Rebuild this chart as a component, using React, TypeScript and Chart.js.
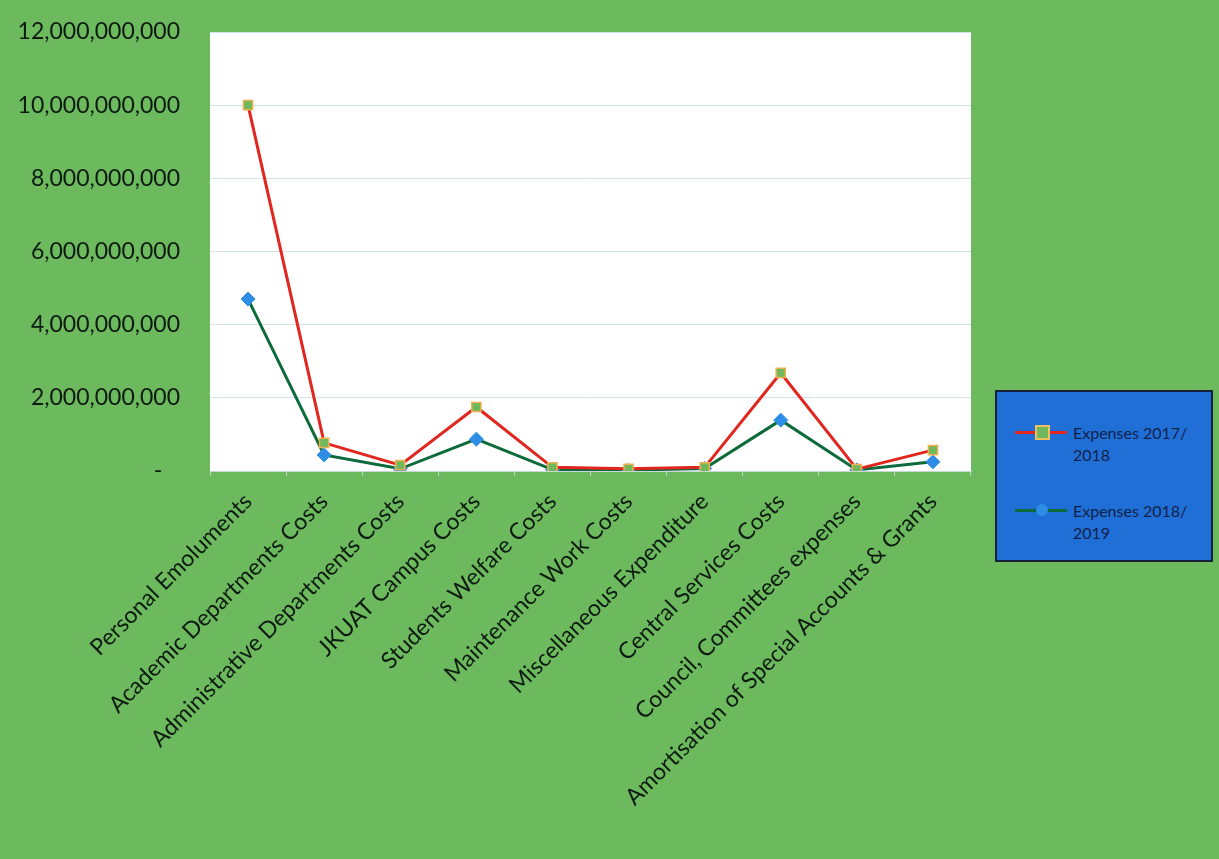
import React, { useEffect, useRef } from "react";
import { Chart, registerables } from "chart.js";

Chart.register(...registerables);

const categories = [
  "Personal Emoluments",
  "Academic Departments Costs",
  "Administrative Departments Costs",
  "JKUAT Campus Costs",
  "Students Welfare Costs",
  "Maintenance Work Costs",
  "Miscellaneous Expenditure",
  "Central Services Costs",
  "Council, Committees expenses",
  "Amortisation of Special Accounts & Grants",
];

const expenses2017 = [
  10000000000, 770000000, 160000000, 1750000000, 100000000, 60000000, 100000000, 2680000000, 50000000, 570000000,
];

const expenses2018 = [
  4700000000, 440000000, 60000000, 870000000, 40000000, 20000000, 70000000, 1390000000, 30000000, 250000000,
];

const seriesLabels = ["Expenses 2017/ 2018", "Expenses 2018/ 2019"];

const FONT = "Lato, 'Open Sans', sans-serif";

const bgPlugin = {
  id: "bgPlugin",
  beforeDraw(chart: any) {
    const { ctx, chartArea, width, height } = chart;
    ctx.save();
    ctx.fillStyle = "#6cb95e";
    ctx.fillRect(0, 0, width, height);
    ctx.fillStyle = "#ffffff";
    ctx.fillRect(chartArea.left, chartArea.top, chartArea.right - chartArea.left, chartArea.bottom - chartArea.top);
    ctx.restore();
  },
};

export default function App() {
  const canvasRef = useRef<HTMLCanvasElement | null>(null);

  useEffect(() => {
    document.body.style.margin = "0";
    const chart = new Chart(canvasRef.current as HTMLCanvasElement, {
      type: "line",
      data: {
        labels: categories,
        datasets: [
          {
            label: seriesLabels[0],
            data: expenses2017,
            borderColor: "#e0261e",
            borderWidth: 3,
            pointStyle: "rect",
            pointRadius: 6.5,
            pointBackgroundColor: "#6fb85c",
            pointBorderColor: "#f0b050",
            pointBorderWidth: 1.5,
            tension: 0,
          },
          {
            label: seriesLabels[1],
            data: expenses2018,
            borderColor: "#0d6a3a",
            borderWidth: 3,
            pointStyle: "rectRot",
            pointRadius: 7,
            pointBackgroundColor: "#2e8ee6",
            pointBorderColor: "#2e8ee6",
            pointBorderWidth: 1,
            tension: 0,
          },
        ],
      },
      options: {
        animation: false,
        responsive: false,
        layout: { padding: { top: 32, right: 248, left: 0, bottom: 0 } },
        plugins: {
          legend: { display: false },
          tooltip: { enabled: false },
        },
        scales: {
          x: {
            offset: true,
            grid: {
              offset: true,
              drawOnChartArea: false,
              color: "#b8d8c0",
              tickLength: 5,
            },
            border: { color: "#c8d8d8" },
            ticks: {
              minRotation: 45,
              maxRotation: 45,
              autoSkip: false,
              color: "#0d1a10",
              padding: 12,
              font: { family: FONT, size: 23 },
            },
            afterFit(scale: any) {
              scale.height = 388;
              scale.paddingTop = 0;
              scale.paddingBottom = 0;
            },
          },
          y: {
            min: 0,
            max: 12000000000,
            grid: {
              color: "#cfe3ec",
              drawTicks: false,
            },
            border: { display: false },
            ticks: {
              stepSize: 2000000000,
              padding: 30,
              color: "#0d1a10",
              font: { family: FONT, size: 23 },
              callback: (v: any) => (Number(v) === 0 ? "-   " : Number(v).toLocaleString("en-US")),
            },
            afterFit(scale: any) {
              scale.width = 210;
              scale.paddingTop = 0;
              scale.paddingBottom = 0;
            },
          },
        },
      },
      plugins: [bgPlugin],
    });
    return () => chart.destroy();
  }, []);

  const legendText: React.CSSProperties = {
    fontFamily: FONT,
    fontSize: 16,
    color: "#13214a",
    lineHeight: "22px",
  };

  const entry = (top: number, lineColor: string, marker: React.ReactNode, label: string) => (
    <div style={{ position: "absolute", left: 18, top, display: "flex", alignItems: "flex-start" }}>
      <div style={{ position: "relative", width: 54, height: 22 }}>
        <div style={{ position: "absolute", left: 0, top: 9, width: 52, height: 3, background: lineColor }} />
        {marker}
      </div>
      <div style={{ ...legendText, width: 135, marginLeft: 4 }}>{label}</div>
    </div>
  );

  return (
    <div style={{ position: "relative", width: 1219, height: 859 }}>
      <canvas ref={canvasRef} width={1219} height={859} style={{ display: "block" }} />
      <div
        style={{
          position: "absolute",
          left: 995,
          top: 390,
          width: 214,
          height: 168,
          background: "#1f6fd6",
          border: "2px solid #17203a",
        }}
      >
        {entry(
          30,
          "#e0261e",
          <div
            style={{
              position: "absolute",
              left: 20,
              top: 3,
              width: 11,
              height: 11,
              background: "#6fb85c",
              border: "2px solid #f0c060",
            }}
          />,
          seriesLabels[0]
        )}
        {entry(
          108,
          "#0d6a3a",
          <div
            style={{
              position: "absolute",
              left: 21,
              top: 4,
              width: 12,
              height: 12,
              borderRadius: 6,
              background: "#2e8ee6",
            }}
          />,
          seriesLabels[1]
        )}
      </div>
    </div>
  );
}
